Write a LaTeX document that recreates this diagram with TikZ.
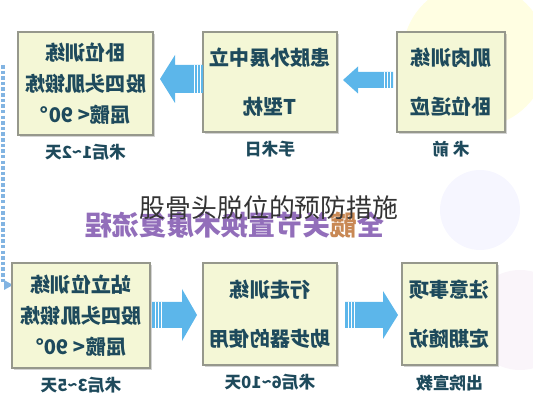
\documentclass[tikz,border=0pt]{standalone}
\usepackage{fontspec}
\newfontfamily\cjk{Noto Sans CJK SC}
\usetikzlibrary{positioning,shadows}
\definecolor{boxfill}{RGB}{244,247,214}
\definecolor{boxline}{RGB}{150,152,140}
\definecolor{inktext}{RGB}{30,74,92}
\definecolor{arrowblue}{RGB}{92,182,234}
\definecolor{flowpurple}{RGB}{146,110,186}
\definecolor{flowbrown}{RGB}{200,136,84}
\definecolor{edgeblue}{RGB}{130,180,226}

\begin{document}
\begin{tikzpicture}[
    stagebox/.style={draw=boxline, fill=boxfill, line width=0.6pt,
      drop shadow={opacity=0.35, shadow xshift=1.2pt, shadow yshift=-1.2pt},
      inner sep=0pt, align=center, text=inktext,
      font=\cjk\bfseries\fontsize{11.5}{17.5}\selectfont},
    stagelabel/.style={text=inktext, inner sep=1pt,
      font=\cjk\bfseries\fontsize{9.5}{11}\selectfont},
    flowarrow/.style={fill=arrowblue},
    stripe/.style={draw=white, line width=0.5pt}
]
    \useasboundingbox (0,0) rectangle (10.66,8);

    % faint background circles
    \begin{scope}
        \clip (0,0) rectangle (10.66,8);
        \fill[yellow!25, opacity=0.45] (9.5,6.9) circle (1.45);
        \fill[blue!8, opacity=0.45] (9.6,3.8) circle (0.8);
        \fill[violet!10, opacity=0.4] (10.4,1.6) circle (1.0);
    \end{scope}

    % dotted line on the left edge
    \draw[edgeblue, line width=1.8pt, dash pattern=on 2pt off 1.2pt] (0.06,6.7) -- (0.06,2.35);
    \fill[edgeblue] (0.08,2.2) -- (0.26,2.3) -- (0.08,2.4) -- cycle;

    % the whole flow is printed mirrored
    \begin{scope}[shift={(10.66,0)}, xscale=-1, transform shape]
        % upper row
        \node[stagebox, minimum width=2.16cm, minimum height=2.0cm] (pre) at (1.64,6.36)
            {肌肉训练\\[0.36cm]卧位适应};
        \node[stagebox, minimum width=2.68cm, minimum height=2.0cm] (opday) at (5.26,6.36)
            {患肢外展中立\\[0.36cm]T型枕};
        \node[stagebox, minimum width=2.7cm, minimum height=2.06cm] (post12) at (8.95,6.33)
            {卧位训练\\股四头肌锻炼\\屈髋< 90°};

        % lower row
        \node[stagebox, minimum width=2.76cm, minimum height=2.1cm] (post35) at (9.04,1.69)
            {站立位训练\\股四头肌锻炼\\屈髋< 90°};
        \node[stagebox, minimum width=2.68cm, minimum height=2.04cm] (post610) at (5.26,1.72)
            {行走训练\\[0.36cm]助步器的使用};
        \node[stagebox, minimum width=1.9cm, minimum height=2.04cm] (disch) at (1.67,1.72)
            {注意事项\\[0.36cm]定期随访};

        % labels under the boxes
        \node[stagelabel, below=0.14cm of pre] (prelbl) {术\ 前};
        \node[stagelabel, below=0.14cm of opday] (opdaylbl) {手术日};
        \node[stagelabel, below=0.14cm of post12] (post12lbl) {术后1\textasciitilde2天};
        \node[stagelabel, below=0.14cm of post35] (post35lbl) {术后3\textasciitilde5天};
        \node[stagelabel, below=0.14cm of post610] (post610lbl) {术后6\textasciitilde10天};
        \node[stagelabel, below=0.14cm of disch] (dischlbl) {出院宣教};

        % block arrows, upper row
        \fill[flowarrow] (2.8,6.24) -- (3.5,6.24) -- (3.5,6.13) -- (3.8,6.4)
            -- (3.5,6.67) -- (3.5,6.56) -- (2.8,6.56) -- cycle;
        \foreach \sx in {2.86,2.92,2.98}
            \draw[stripe] (\sx,6.24) -- (\sx,6.56);
        \fill[flowarrow] (6.6,6.14) -- (7.16,6.14) -- (7.16,5.94) -- (7.46,6.42)
            -- (7.16,6.9) -- (7.16,6.7) -- (6.6,6.7) -- cycle;
        \foreach \sx in {6.66,6.72,6.78}
            \draw[stripe] (\sx,6.14) -- (\sx,6.7);

        % block arrows, lower row
        \fill[flowarrow] (7.62,1.44) -- (7.02,1.44) -- (7.02,1.18) -- (6.72,1.7)
            -- (7.02,2.22) -- (7.02,1.96) -- (7.62,1.96) -- cycle;
        \foreach \sx in {7.56,7.5,7.44}
            \draw[stripe] (\sx,1.44) -- (\sx,1.96);
        \fill[flowarrow] (3.76,1.44) -- (3.0,1.44) -- (3.0,1.22) -- (2.7,1.7)
            -- (3.0,2.18) -- (3.0,1.96) -- (3.76,1.96) -- cycle;
        \foreach \sx in {3.7,3.64,3.58}
            \draw[stripe] (\sx,1.44) -- (\sx,1.96);

        % purple heading, top cut off
        \begin{scope}
            \clip (0,0) rectangle (10.66,3.76);
            \node[inner sep=0pt, font=\cjk\bfseries\fontsize{15.5}{17}\selectfont] (flowhead) at (5.96,3.5)
                {\textcolor{flowpurple}{全}\textcolor{flowbrown}{髋}\textcolor{flowpurple}{关节置换术康复流程}};
        \end{scope}
    \end{scope}

    % title over the picture
    \node[inner sep=0pt, text={black!80}, font=\cjk\fontsize{14.7}{16}\selectfont] (title) at (5.38,3.84)
        {股骨头脱位的预防措施};
\end{tikzpicture}
\end{document}
